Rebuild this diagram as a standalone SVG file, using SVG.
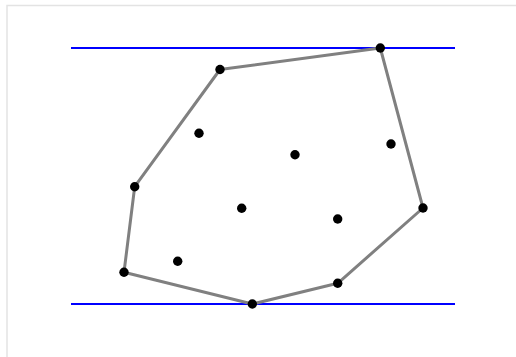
<svg xmlns="http://www.w3.org/2000/svg" width="516" height="357" viewBox="0 0 516 357">
<style>
.frame{fill:#fff;stroke:#e3e3e3;stroke-width:1.5}
.line{stroke:#0000ff;stroke-width:2;fill:none}
.hull{stroke:#808080;stroke-width:3;fill:none;stroke-linejoin:round}
.pt{fill:#000}
</style>
<rect class="frame" x="7" y="5.5" width="520" height="360"/>
<g id="connectors">
<line class="line" x1="71" y1="48" x2="455" y2="48"/>
<line class="line" x1="71" y1="304" x2="455" y2="304"/>
<polygon class="hull" points="380.3,48 220,69.5 134.7,186.7 124,272.3 252.3,304 337.7,283.3 423,208"/>
</g>
<g id="p1"><circle class="pt" cx="380.3" cy="48" r="4.7"/></g>
<g id="p2"><circle class="pt" cx="220" cy="69.5" r="4.7"/></g>
<g id="p3"><circle class="pt" cx="134.7" cy="186.7" r="4.7"/></g>
<g id="p4"><circle class="pt" cx="124" cy="272.3" r="4.7"/></g>
<g id="p5"><circle class="pt" cx="252.3" cy="304" r="4.7"/></g>
<g id="p6"><circle class="pt" cx="337.7" cy="283.3" r="4.7"/></g>
<g id="p7"><circle class="pt" cx="423" cy="208" r="4.7"/></g>
<g id="p8"><circle class="pt" cx="199" cy="133.3" r="4.7"/></g>
<g id="p9"><circle class="pt" cx="295" cy="154.7" r="4.7"/></g>
<g id="p10"><circle class="pt" cx="391" cy="144" r="4.7"/></g>
<g id="p11"><circle class="pt" cx="241.7" cy="208.3" r="4.7"/></g>
<g id="p12"><circle class="pt" cx="337.7" cy="219" r="4.7"/></g>
<g id="p13"><circle class="pt" cx="177.7" cy="261.3" r="4.7"/></g>
</svg>
